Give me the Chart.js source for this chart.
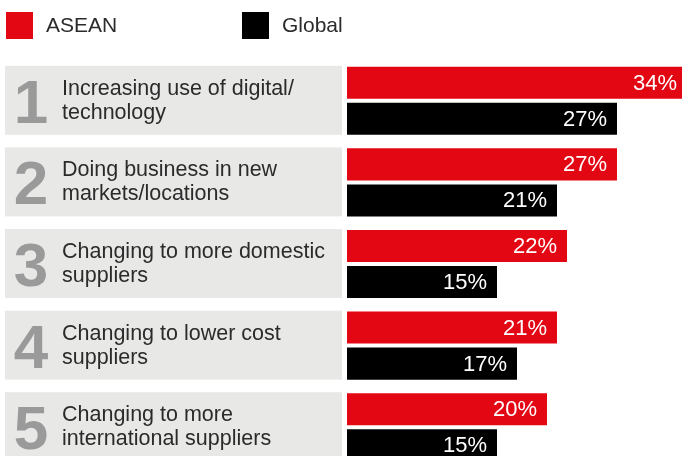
<!DOCTYPE html>
<html>
<head>
<meta charset="utf-8">
<script src="https://cdn.jsdelivr.net/npm/chart.js@4.4.1/dist/chart.umd.min.js"></script>
<style>
  html, body { margin: 0; padding: 0; background: #fff; overflow: hidden; }
  #wrap { width: 682px; height: 456px; overflow: hidden; }
</style>
</head>
<body>
<div id="wrap"><canvas id="myChart" width="682" height="470"></canvas></div>
<script>
const ranks = ["1", "2", "3", "4", "5"]
const categories = [
    ["Increasing use of digital/", "technology"],
    ["Doing business in new", "markets/locations"],
    ["Changing to more domestic", "suppliers"],
    ["Changing to lower cost", "suppliers"],
    ["Changing to more", "international suppliers"]
]
const asean = [34, 27, 22, 21, 20]
const global = [27, 21, 15, 17, 15]

const RED = "#e30613"
const FONT = "'Liberation Sans', Arial, sans-serif"

// grey panels with the big rank number and the two-line label
const rowPanels = {
    id: "rowPanels",
    beforeDatasetsDraw(chart) {
        const ctx = chart.ctx
        const y = chart.scales.y
        ctx.save()
        categories.forEach((lines, i) => {
            const cy = y.getPixelForValue(i)
            ctx.fillStyle = "#e8e8e7"
            ctx.fillRect(5, cy - 35, 337, 69)

            ctx.fillStyle = "#9a9a9a"
            ctx.font = "bold 62px " + FONT
            ctx.textAlign = "center"
            ctx.textBaseline = "alphabetic"
            ctx.fillText(ranks[i], 31, cy + 22)

            ctx.fillStyle = "#2b2b2b"
            ctx.font = "21.5px " + FONT
            ctx.textAlign = "left"
            ctx.fillText(lines[0], 62, cy - 6)
            ctx.fillText(lines[1], 62, cy + 18)
        })
        ctx.restore()
    }
}

// percentage inside the end of each bar
const barValues = {
    id: "barValues",
    afterDatasetsDraw(chart) {
        const ctx = chart.ctx
        ctx.save()
        ctx.fillStyle = "#fff"
        ctx.font = "22px " + FONT
        ctx.textAlign = "right"
        ctx.textBaseline = "middle"
        chart.data.datasets.forEach((ds, d) => {
            chart.getDatasetMeta(d).data.forEach((bar, i) => {
                ctx.fillText(ds.data[i] + "%", bar.x - 10, bar.y + 1)
            })
        })
        ctx.restore()
    }
}

// square swatch legend along the top
const topLegend = {
    id: "topLegend",
    afterDraw(chart) {
        const ctx = chart.ctx
        const xs = [6, 242]
        ctx.save()
        ctx.font = "21px " + FONT
        ctx.textBaseline = "middle"
        chart.data.datasets.forEach((ds, d) => {
            ctx.fillStyle = ds.backgroundColor
            ctx.fillRect(xs[d], 12, 27, 27)
            ctx.fillStyle = "#2b2b2b"
            ctx.fillText(ds.label, xs[d] + 40, 26)
        })
        ctx.restore()
    }
}

const data = {
    labels: categories,
    datasets: [{
        label: "ASEAN",
        backgroundColor: RED,
        data: asean,
    }, {
        label: "Global",
        backgroundColor: "#000",
        data: global,
    }]
}

const config = {
    type: "bar",
    data: data,
    options: {
        indexAxis: "y",
        responsive: false,
        animation: false,
        events: [],
        categoryPercentage: 0.883,
        barPercentage: 0.889,
        layout: { padding: { left: 347, right: 0, top: 60, bottom: 2 } },
        scales: {
            x: { display: false, min: 0, max: 33.5 },
            y: { display: false }
        },
        plugins: {
            legend: { display: false },
            tooltip: { enabled: false }
        }
    },
    plugins: [rowPanels, barValues, topLegend]
}

const myChart = new Chart(document.getElementById("myChart"), config)
</script>
</body>
</html>
